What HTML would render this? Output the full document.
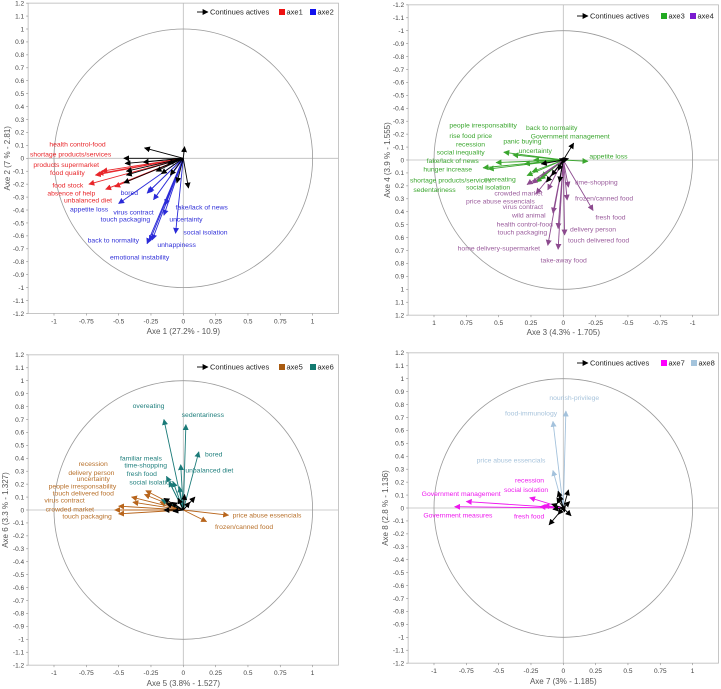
<!DOCTYPE html>
<html><head><meta charset="utf-8">
<style>
html,body{margin:0;padding:0;background:#fff;}
svg{display:block;font-family:"Liberation Sans",sans-serif;}
</style></head>
<body>
<svg id="fig" width="721" height="689" viewBox="0 0 721 689" xmlns="http://www.w3.org/2000/svg"></svg>
<script>
// ---------- Panel 1 (axe1 / axe2) ----------
const p1BlackX=[0.01,-0.3,-0.46,-0.45,-0.44,-0.44,-0.46,-0.31,-0.21,-0.12,-0.1,-0.05,0.04,-0.17];
const p1BlackY=[0.09,0.08,0,-0.04,-0.1,-0.13,-0.19,-0.03,-0.1,-0.04,-0.13,-0.19,-0.23,-0.12];
const p1AX=[-0.68,-0.66,-0.63,-0.73,-0.6,-0.53];
const p1AY=[-0.13,-0.12,-0.1,-0.2,-0.24,-0.22];
const p1BX=[-0.28,-0.27,-0.5,-0.23,-0.14,-0.15,-0.06,-0.28,-0.26,-0.24];
const p1BY=[-0.27,-0.26,-0.35,-0.32,-0.36,-0.44,-0.58,-0.66,-0.64,-0.63];
const p1LabA=["health control-food","shortage products/services","products supermarket","food quality","food stock","absence of help","unbalanced diet"];
const p1LabAPos=[[148,432],[90,463],[100,494],[150,518],[157,556],[142,580],[192,600]];
const p1LabB=["bored","appetite loss","virus contract","touch packaging","fake/lack of news","uncertainty","social isolation","unhappiness","back to normality","emotional instability"];
const p1LabBPos=[[362,578],[210,627],[340,636],[302,658],[527,621],[508,658],[550,697],[472,734],[263,720],[330,772]];

// ---------- Panel 2 (axe3 / axe4) ----------
const p2BlackX=[-0.08,-0.04,0.03,0.17,0.13,0.09,0.04,0.03];
const p2BlackY=[-0.13,-0.01,-0.01,0.03,0.17,0.12,0.08,0.17];
const p2AX=[0.46,0.39,0.52,0.62,0.58,0.3,0.23,0.28,0.24,0.21,0.17,-0.19,0.18];
const p2AY=[-0.06,-0.04,0.02,0.06,0.07,0.03,0,0.12,0.09,0.17,0.13,0.01,0.15];
const p2BX=[0.28,0.24,0.21,0.12,0.08,0.12,0.04,0.04,-0.01,-0.04,-0.03,-0.23];
const p2BY=[0.19,0.18,0.26,0.23,0.41,0.66,0.69,0.53,0.58,0.21,0.31,0.39];
const p2LabA=["people irresponsability","back to normality","rise food price","Government management","recession","panic buying","social inequality","uncertainty","appetite loss","fake/lack of news","hunger increase","overeating","shortage products/services","social isolation","sedentariness"];
const p2LabAPos=[[268,376],[498,383],[268,407],[512,408],[288,432],[430,423],[230,456],[476,452],[688,468],[200,482],[190,508],[372,538],[150,540],[318,561],[160,569]];
const p2LabB=["time-shopping","crowded market","frozen/canned food","price abuse essencials","virus contract","wild animal","fresh food","health control-food","delivery person","touch packaging","touch delivered food","home delivery-supermarket","take-away food"];
const p2LabBPos=[[645,547],[403,580],[645,594],[318,603],[428,620],[456,646],[706,652],[410,672],[630,688],[413,696],[624,720],[293,744],[542,780]];

// ---------- Panel 3 (axe5 / axe6) ----------
const p3BlackX=[0.01,0.09,0.05,-0.15,-0.09,-0.04,-0.15,-0.08,-0.13];
const p3BlackY=[0.12,0.1,0.06,0.09,0.06,0.09,0,-0.01,0.05];
const p3AX=[0.35,0.18,-0.5,-0.53,-0.5,-0.4,-0.39,-0.29,-0.3,-0.18];
const p3AY=[-0.04,-0.09,0.03,0,-0.03,0.1,0.06,0.15,0.12,0.06];
const p3BX=[-0.15,0.02,0.12,-0.02,-0.13,-0.11,-0.08,-0.03,-0.17];
const p3BY=[0.7,0.66,0.45,0.35,0.26,0.22,0.22,0.18,0.08];
const p3LabA=["recession","delivery person","uncertainty","people irresponsability","touch delivered food","virus contract","crowded market","price abuse essencials","touch packaging","frozen/canned food"];
const p3LabAPos=[[236,356],[205,383],[230,401],[146,423],[158,445],[133,466],[137,492],[698,510],[187,514],[645,545]];
const p3LabB=["overeating","sedentariness","bored","familiar meals","time-shopping","unbalanced diet","fresh food","social isolation"];
const p3LabBPos=[[398,182],[545,209],[615,327],[360,340],[373,361],[556,376],[380,386],[388,411]];

// ---------- Panel 4 (axe7 / axe8) ----------
const p4BlackX=[-0.11,-0.04,0.06,0.04,-0.04,-0.08,-0.05,0.05,0.01,-0.03,-0.09];
const p4BlackY=[-0.13,-0.05,-0.06,0.14,0.13,-0.01,0.08,0.05,-0.03,0.1,0.03];
const p4AX=[-0.84,-0.75,-0.26,-0.18,-0.15];
const p4AY=[0.01,0.05,0.08,0.01,0.02];
const p4BX=[-0.08,0.02,-0.08];
const p4BY=[0.67,0.75,0.29];
const p4LabA=["recession","social isolation","Government management","Government measures","fresh food"];
const p4LabAPos=[[465,406],[432,434],[185,446],[190,510],[462,513]];
const p4LabB=["nourish-privilege","food-immunology","price abuse essencials"];
const p4LabBPos=[[568,158],[435,204],[350,346]];

const NS="http://www.w3.org/2000/svg";
const svg=document.getElementById('fig');
function mk(tag,attrs,parent){const e=document.createElementNS(NS,tag);for(const k in attrs)e.setAttribute(k,attrs[k]);(parent||svg).appendChild(e);return e;}

const defs=mk('defs',{});
function marker(id,color){
  const m=mk('marker',{id:id,viewBox:'0 0 10 10',refX:'9',refY:'5',markerWidth:'6',markerHeight:'6',markerUnits:'userSpaceOnUse',orient:'auto'},defs);
  mk('path',{d:'M0,0 L10,5 L0,10 z',fill:color},m);
}

const panels=[
 {name:'axe1-axe2',ox:0,oy:0,cx:183.3,cy:158.3,s:129.3,flip:false,
  bx:p1BlackX,by:p1BlackY,ax:p1AX,ay:p1AY,bbx:p1BX,bby:p1BY,
  colA:'#e8262a',colB:'#2a2ad8',labColA:'#e8262a',labColB:'#3030d8',sqA:'#ee1111',sqB:'#1111ee',
  labA:p1LabA,labAPos:p1LabAPos,labB:p1LabB,labBPos:p1LabBPos,
  leg:['axe1','axe2'],legY:12,legX:197,sqAX:279,sqBX:310,
  xt:'Axe 1 (27.2% - 10.9)',xtY:332,yt:'Axe 2 (7 % - 2.81)',ytX:7},
 {name:'axe3-axe4',ox:360,oy:0,cx:203.3,cy:160,s:129.3,flip:true,
  bx:p2BlackX,by:p2BlackY,ax:p2AX,ay:p2AY,bbx:p2BX,bby:p2BY,
  colA:'#3aa62e',colB:'#8c4a8e',labColA:'#3aa62e',labColB:'#9a5c9c',sqA:'#22aa22',sqB:'#7a1ad0',
  labA:p2LabA,labAPos:p2LabAPos,labB:p2LabB,labBPos:p2LabBPos,
  leg:['axe3','axe4'],legY:16,legX:217,sqAX:301,sqBX:330,
  xt:'Axe 3 (4.3% - 1.705)',xtY:333,yt:'Axe 4 (3.9 % - 1.555)',ytX:27},
 {name:'axe5-axe6',ox:0,oy:345,cx:183.3,cy:165,s:129.3,flip:false,
  bx:p3BlackX,by:p3BlackY,ax:p3AX,ay:p3AY,bbx:p3BX,bby:p3BY,
  colA:'#b8651c',colB:'#1a7a78',labColA:'#b8702a',labColB:'#1f7f7d',sqA:'#a85a10',sqB:'#127a70',
  labA:p3LabA,labAPos:p3LabAPos,labB:p3LabB,labBPos:p3LabBPos,
  leg:['axe5','axe6'],legY:22,legX:197,sqAX:279,sqBX:310,
  xt:'Axe 5 (3.8% - 1.527)',xtY:339,yt:'Axe 6 (3.3 % - 1.327)',ytX:5},
 {name:'axe7-axe8',ox:360,oy:345,cx:203.3,cy:163,s:129.3,flip:false,
  bx:p4BlackX,by:p4BlackY,ax:p4AX,ay:p4AY,bbx:p4BX,bby:p4BY,
  colA:'#ee18ee',colB:'#a4c2dc',labColA:'#ee18ee',labColB:'#a8c4dc',sqA:'#ff00ff',sqB:'#a4c4dc',
  labA:p4LabA,labAPos:p4LabAPos,labB:p4LabB,labBPos:p4LabBPos,
  leg:['axe7','axe8'],legY:18,legX:217,sqAX:301,sqBX:331,
  xt:'Axe 7 (3% - 1.185)',xtY:337,yt:'Axe 8 (2.8 % - 1.136)',ytX:25}
];

const yTicks=[];for(let i=-12;i<=12;i++)yTicks.push(i/10);
const xTicks=[-1,-0.75,-0.5,-0.25,0,0.25,0.5,0.75,1];
function fmt(v){let s=String(Math.round(v*100)/100);return s;}

panels.forEach((P,pi)=>{
  const g=mk('g',{transform:`translate(${P.ox},${P.oy})`});
  
  
  const sgn=P.flip?-1:1;
  const X=v=>P.cx+sgn*v*P.s;
  const Y=v=>P.cy-sgn*v*P.s;
  const L=P.cx-1.2*P.s,R=P.cx+1.2*P.s,T=P.cy-1.2*P.s,B=P.cy+1.2*P.s;
  marker('mk'+pi+'k','#000');marker('mk'+pi+'a',P.colA);marker('mk'+pi+'b',P.colB);
  const frame=mk('rect',{x:L,y:T,width:R-L,height:B-T,fill:'none',stroke:'#b8b8b8','stroke-width':0.8},g);
  
  
  const hx=mk('line',{x1:L,x2:R,y1:P.cy,y2:P.cy,stroke:'#bbb','stroke-width':0.8},g);
  
  
  const vy=mk('line',{x1:P.cx,x2:P.cx,y1:T,y2:B,stroke:'#bbb','stroke-width':0.8},g);
  
  
  const circ=mk('circle',{cx:P.cx,cy:P.cy,r:P.s,fill:'none',stroke:'#999','stroke-width':0.8},g);
  
  
  // y ticks
  yTicks.forEach(v=>{
    const y=Y(v);
    const tl=mk('line',{x1:L-2,x2:L,y1:y,y2:y,stroke:'#888','stroke-width':0.6},g);
    
    
    const t=mk('text',{x:L-4,y:y+2.3,'text-anchor':'end','font-size':6.5,fill:'#444'},g);
    t.textContent=fmt(v);
    
    
  });
  xTicks.forEach(v=>{
    const x=X(v);
    const tl=mk('line',{x1:x,x2:x,y1:B,y2:B+2,stroke:'#888','stroke-width':0.6},g);
    
    
    const t=mk('text',{x:x,y:B+10,'text-anchor':'middle','font-size':6.5,fill:'#444'},g);
    t.textContent=fmt(v);
    
    
  });
  const xt=mk('text',{x:P.cx,y:P.xtY+2,'text-anchor':'middle','font-size':8,fill:'#555'},g);
  xt.textContent=P.xt;
  
  
  const yt=mk('text',{x:0,y:0,'text-anchor':'middle','font-size':8,fill:'#555',transform:`translate(${P.ytX+3},${P.cy}) rotate(-90)`},g);
  yt.textContent=P.yt;
  
  
  // arrows
  function arrows(xs,ys,color,mid,nm){
    xs.forEach((v,i)=>{
      const a=mk('line',{x1:P.cx,y1:P.cy,x2:X(v),y2:Y(ys[i]),stroke:color,'stroke-width':0.9,'marker-end':`url(#${mid})`},g);
      
      
    });
  }
  arrows(P.ax,P.ay,P.colA,'mk'+pi+'a','vector-'+P.leg[0]);
  arrows(P.bbx,P.bby,P.colB,'mk'+pi+'b','vector-'+P.leg[1]);
  arrows(P.bx,P.by,'#000','mk'+pi+'k','vector-continues-active');
  function labels(arr,pos,color,nm){
    arr.forEach((s,i)=>{
      const t=mk('text',{x:pos[i][0]/3,y:pos[i][1]/3+2.4,'font-size':6.8,fill:color},g);
      t.textContent=s;
      
      
    });
  }
  labels(P.labA,P.labAPos,P.labColA,'label-'+P.leg[0]);
  labels(P.labB,P.labBPos,P.labColB,'label-'+P.leg[1]);
  // legend
  const lg=mk('g',{},g);
  
  
  mk('line',{x1:P.legX,y1:P.legY,x2:P.legX+11,y2:P.legY,stroke:'#000','stroke-width':0.9,'marker-end':`url(#mk${pi}k)`},lg);
  const lt=mk('text',{x:P.legX+13,y:P.legY+2.7,'font-size':7.5,fill:'#222'},lg);
  lt.textContent='Continues actives';
  
  
  mk('rect',{x:P.sqAX,y:P.legY-3,width:6,height:6,fill:P.sqA},lg);
  const la=mk('text',{x:P.sqAX+7.5,y:P.legY+2.7,'font-size':7.5,fill:'#222'},lg);
  la.textContent=P.leg[0];
  
  
  mk('rect',{x:P.sqBX,y:P.legY-3,width:6,height:6,fill:P.sqB},lg);
  const lb=mk('text',{x:P.sqBX+7.5,y:P.legY+2.7,'font-size':7.5,fill:'#222'},lg);
  lb.textContent=P.leg[1];
  
  
});
</script>
</body></html>
